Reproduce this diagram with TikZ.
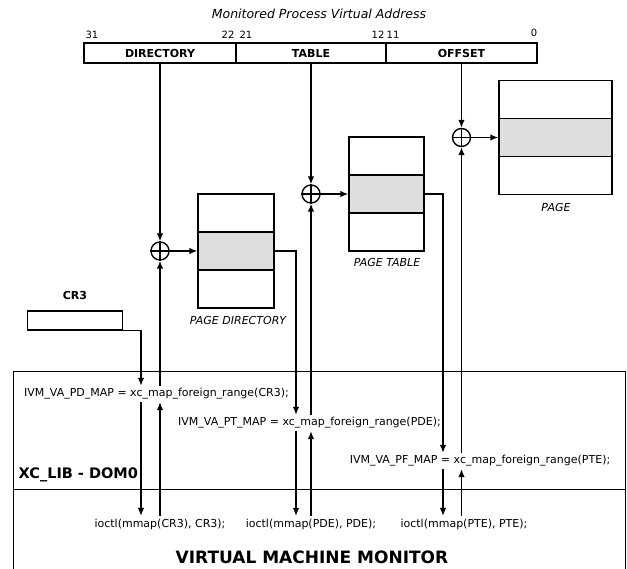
\documentclass[tikz,border=0pt]{standalone}
\usepackage{fontspec}
\setmainfont{DejaVu Sans}
\usetikzlibrary{arrows.meta}
\tikzset{
  field/.style={draw, inner sep=0pt, minimum height=20pt, font=\bfseries\fontsize{11}{12}\selectfont},
  cell/.style={draw, inner sep=0pt, minimum height=38pt},
  greycell/.style={cell, fill=black!13},
  oplus/.style={draw, circle, inner sep=0pt, minimum size=18pt},
  code/.style={inner sep=2pt, font=\fontsize{11}{13}\selectfont},
  caption/.style={inner sep=0pt, font=\itshape\fontsize{11}{13}\selectfont},
  bitnum/.style={inner sep=0pt, font=\fontsize{10}{11}\selectfont},
  heading/.style={inner sep=0pt, font=\bfseries\fontsize{14.5}{17}\selectfont},
  link/.style={-{Latex[length=8pt,width=6.5pt]}},
}
\begin{document}
\begin{tikzpicture}[x=1pt,y=-1pt,line width=1.4pt]
\useasboundingbox (0,0) rectangle (627,569);
% title
\node[caption, font=\itshape\fontsize{12.5}{14}\selectfont] (title) at (319,14) {Monitored Process Virtual Address};
% address fields
\node[field, minimum width=152pt] (dir) at (160,53) {DIRECTORY};
\node[field, minimum width=150pt] (tab) at (311,53) {TABLE};
\node[field, minimum width=151pt] (off) at (461.5,53) {OFFSET};
\node[bitnum] (b31) at (92,35) {31};
\node[bitnum] (b22) at (228,35) {22};
\node[bitnum] (b21) at (246,35) {21};
\node[bitnum] (b12) at (378,35) {12};
\node[bitnum] (b11) at (393,35) {11};
\node[bitnum] (b0) at (534,33) {0};
% page directory
\node[cell, minimum width=76pt] (pdt) at (236,213) {};
\node[greycell, minimum width=76pt] (pdm) at (236,251) {};
\node[cell, minimum width=76pt] (pdb) at (236,289) {};
\node[caption] (pdlabel) at (238,320) {PAGE DIRECTORY};
% page table
\node[cell, minimum width=75pt] (ptt) at (386.5,156) {};
\node[greycell, minimum width=75pt] (ptm) at (386.5,194) {};
\node[cell, minimum width=75pt] (ptb) at (386.5,232) {};
\node[caption] (ptlabel) at (387,262) {PAGE TABLE};
% page
\node[cell, minimum width=113pt] (pgt) at (555.5,99.5) {};
\node[greycell, minimum width=113pt] (pgm) at (555.5,137.5) {};
\node[cell, minimum width=113pt] (pgb) at (555.5,175.5) {};
\node[caption] (pglabel) at (556,207) {PAGE};
% adders
\node[oplus] (o1) at (160,251) {};
\node[oplus] (o2) at (311,194) {};
\node[oplus] (o3) at (461.5,137.5) {};
\foreach \o in {o1,o2,o3}{
  \draw[line width=1.2pt] (\o.north) -- (\o.south) (\o.west) -- (\o.east);
}
% CR3
\node[heading, font=\bfseries\fontsize{11}{13}\selectfont] (cr3label) at (75,295) {CR3};
\node[draw, inner sep=0pt, minimum width=95pt, minimum height=19pt] (cr3) at (75,320.5) {};
% frame
\node[draw, inner sep=0pt, minimum width=612pt, minimum height=118pt, anchor=north west] (xclib) at (13,371) {};
\node[draw, inner sep=0pt, minimum width=612pt, minimum height=100pt, anchor=north west] (vmm) at (13,489) {};
\node[heading, anchor=west] (xclabel) at (18,475) {XC\_LIB - DOM0};
\node[heading, font=\bfseries\fontsize{17}{20}\selectfont] (vmmlabel) at (312,557) {VIRTUAL MACHINE MONITOR};
% code
\node[code] (pdmap) at (156.5,394) {IVM\_VA\_PD\_MAP = xc\_map\_foreign\_range(CR3);};
\node[code] (ptmap) at (309.5,423) {IVM\_VA\_PT\_MAP = xc\_map\_foreign\_range(PDE);};
\node[code] (pfmap) at (480,461) {IVM\_VA\_PF\_MAP = xc\_map\_foreign\_range(PTE);};
\node[code] (io1) at (160,524) {ioctl(mmap(CR3), CR3);};
\node[code] (io2) at (311,524) {ioctl(mmap(PDE), PDE);};
\node[code] (io3) at (464,524) {ioctl(mmap(PTE), PTE);};
% column coordinates
\coordinate (ca) at (141,0);
\coordinate (cb) at (296,0);
\coordinate (cc) at (443,0);
% address to adders
\draw[link] (dir.south) -- (o1.north);
\draw[link] (tab.south) -- (o2.north);
\draw[link] (off.south -| o3.north) -- (o3.north);
\draw[link] (o1.east) -- (pdm.west);
\draw[link] (o2.east) -- (ptm.west);
\draw[link] (o3.east) -- (pgm.west);
% level 1
\draw[link] (cr3.south east) -| (ca |- pdmap.north);
\draw[link] (o1.south |- pdmap.north) -- (o1.south);
\draw[link] (ca |- pdmap.south) -- (ca |- io1.north);
\draw[link] (o1.south |- io1.north) -- (o1.south |- pdmap.south);
% level 2
\draw[link] (pdm.east) -| (cb |- ptmap.north);
\draw[link] (o2.south |- ptmap.north) -- (o2.south);
\draw[link] (cb |- ptmap.south) -- (cb |- io2.north);
\draw[link] (o2.south |- io2.north) -- (o2.south |- ptmap.south);
% level 3
\draw[link] (ptm.east) -| (cc |- pfmap.north);
\draw[link] (o3.south |- pfmap.north) -- (o3.south);
\draw[link] (cc |- pfmap.south) -- (cc |- io3.north);
\draw[link] (o3.south |- io3.north) -- (o3.south |- pfmap.south);
\end{tikzpicture}
\end{document}
